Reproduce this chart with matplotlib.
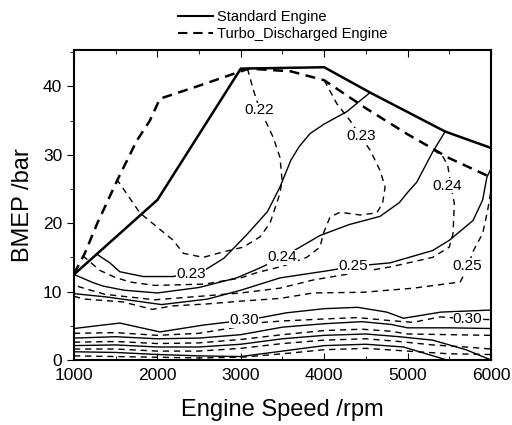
import matplotlib
matplotlib.use('Agg')
import matplotlib.pyplot as plt
from matplotlib.lines import Line2D

plt.rcParams['font.family'] = ['Liberation Sans', 'DejaVu Sans']

# full load lines (rpm, bar)
std_full_x = [1000, 2000, 3000, 4000, 4550, 5450, 6000]
std_full_y = [12.5, 23.4, 42.6, 42.8, 39.1, 33.4, 31.0]
turbo_full_x = [1000, 1130, 1280, 1520, 1750, 1910, 2030, 2500, 3000, 3100, 3600, 4000, 4500, 5000, 5500, 6000]
turbo_full_y = [12.6, 15.6, 20.0, 26.3, 32.0, 35.0, 38.2, 40.1, 42.2, 42.6, 42.2, 40.9, 36.8, 33.0, 29.5, 26.7]

# standard engine bsfc contours
std_023_x = [1270, 1430, 1550, 1830, 2190, 2550, 2800, 3070, 3320, 3470, 3600, 3700, 3830, 4000, 4270, 4550]
std_023_y = [15.5, 14.2, 12.9, 12.2, 12.2, 13.0, 14.9, 18.3, 21.7, 25.3, 29.2, 31.2, 33.1, 34.5, 36.3, 39.1]
std_024_x = [1000, 1230, 1350, 1600, 2000, 2500, 2950, 3200, 3500, 3710, 3950, 4300, 4670, 4900, 5000, 5110, 5300, 5450]
std_024_y = [12.5, 11.3, 10.8, 10.2, 9.8, 10.6, 12.0, 13.3, 15.0, 16.5, 18.2, 19.8, 21.0, 23.0, 24.5, 26.0, 30.4, 33.4]
std_025_x = [1000, 1400, 2050, 2600, 3000, 3470, 4070, 4350, 4790, 5300, 5500, 5785, 5900, 5950, 6000]
std_025_y = [9.7, 9.2, 8.1, 8.9, 10.2, 12.0, 13.1, 13.7, 14.2, 16.0, 17.5, 20.4, 23.4, 26.7, 28.0]
std_030_x = [1000, 1550, 2030, 2550, 3030, 3200, 3550, 4000, 4400, 4750, 4950, 5400, 6000]
std_030_y = [4.6, 5.4, 4.1, 5.1, 5.8, 6.1, 6.9, 7.5, 7.7, 7.0, 6.1, 7.0, 7.3]
std_low1_x = [1000, 1500, 2000, 2500, 3000, 3500, 4000, 4450, 4800, 5000, 5500, 6000]
std_low1_y = [3.2, 3.4, 3.1, 3.2, 3.7, 4.8, 5.3, 5.6, 5.2, 4.7, 4.7, 4.6]
std_low2_x = [1000, 1500, 2000, 2500, 3000, 3500, 4000, 4500, 4900, 5300, 5700, 6000]
std_low2_y = [2.1, 2.2, 1.9, 1.9, 2.3, 3.1, 3.6, 3.8, 3.4, 2.9, 1.5, 0.0]
std_low3_x = [1000, 1500, 2000, 2500, 3000, 3500, 4000, 4500, 4950, 5470]
std_low3_y = [1.2, 1.1, 0.8, 0.6, 0.5, 1.3, 2.1, 2.3, 1.9, 0.0]

# turbo-discharged engine bsfc contours
tur_022_x = [3080, 3150, 3230, 3310, 3390, 3470, 3495, 3470, 3430, 3350, 3230, 3030, 2790, 2550, 2310, 2190, 1990, 1790, 1520]
tur_022_y = [42.6, 39.5, 36.5, 34.6, 32.5, 29.6, 26.3, 24.4, 22.9, 20.0, 18.0, 16.5, 15.8, 15.0, 15.6, 17.5, 19.5, 21.5, 26.3]
tur_023_x = [4000, 4150, 4310, 4430, 4550, 4670, 4730, 4700, 4630, 4430, 4190, 4070, 3990, 3950, 3790, 3500, 3200, 3000, 2570, 1970, 1670, 1490, 1310, 1110]
tur_023_y = [40.9, 37.5, 35.0, 32.8, 30.7, 27.7, 25.3, 22.9, 21.5, 21.2, 21.6, 20.9, 18.5, 16.5, 15.0, 13.7, 12.8, 12.0, 11.1, 10.9, 11.4, 12.1, 13.1, 15.2]
tur_024_x = [5310, 5420, 5480, 5520, 5560, 5545, 5500, 5300, 4790, 4400, 3870, 3470, 3000, 2500, 1970, 1370, 1060, 1000]
tur_024_y = [30.7, 29.8, 28.5, 25.5, 22.9, 18.5, 16.5, 15.0, 13.6, 12.8, 11.7, 10.5, 9.8, 9.3, 8.8, 9.6, 10.7, 11.3]
tur_025_x = [1000, 1130, 1580, 1940, 2180, 2600, 3000, 3470, 3870, 4470, 5070, 5630, 5700, 5790, 5900, 5960, 6000]
tur_025_y = [9.3, 8.9, 8.5, 7.4, 7.9, 8.2, 8.6, 9.0, 9.8, 9.9, 10.5, 11.4, 13.0, 16.0, 18.5, 21.9, 24.8]
tur_030_x = [1000, 1500, 2000, 2500, 3000, 3270, 3500, 4000, 4400, 4750, 5065, 5390, 5720, 6000]
tur_030_y = [3.9, 4.0, 3.6, 3.9, 4.9, 5.5, 5.7, 6.0, 6.2, 5.8, 5.5, 6.3, 6.0, 5.9]
tur_low1_x = [1000, 1500, 2000, 2500, 3000, 3500, 4000, 4450, 4800, 5000, 5500, 6000]
tur_low1_y = [2.6, 2.7, 2.4, 2.5, 3.0, 3.7, 4.3, 4.5, 4.2, 3.8, 3.7, 3.6]
tur_low2_x = [1000, 1500, 2000, 2500, 3000, 3500, 4000, 4500, 4900, 5300, 5700, 6000]
tur_low2_y = [1.6, 1.6, 1.3, 1.3, 1.7, 2.4, 2.9, 3.1, 2.7, 2.2, 1.9, 1.6]
tur_low3_x = [1000, 1500, 2000, 2500, 3000, 3500, 4000, 4500, 5000, 5500, 6000]
tur_low3_y = [0.6, 0.5, 0.4, 0.3, 0.4, 0.9, 1.5, 1.7, 1.3, 0.9, 0.8]

# contour labels: text, rpm, bar
label_text = ['0.22', '0.23', '0.23', '0.24', '0.24', '0.25', '0.25', '0.30', '0.30']
label_x = [3220, 4440, 2400, 3500, 5480, 4350, 5710, 3040, 5720]
label_y = [36.5, 32.8, 12.6, 15.0, 25.5, 13.7, 13.8, 5.8, 6.0]

fig = plt.figure(figsize=(5.12, 4.25), dpi=100)
ax = fig.add_axes([0.1445, 0.153, 0.8145, 0.729])

# full load
ax.plot(std_full_x, std_full_y, color='black', lw=1.8)
ax.plot(turbo_full_x, turbo_full_y, color='black', lw=1.8, dashes=(4, 2.6))

solid = [(std_023_x, std_023_y), (std_024_x, std_024_y), (std_025_x, std_025_y),
         (std_030_x, std_030_y), (std_low1_x, std_low1_y), (std_low2_x, std_low2_y),
         (std_low3_x, std_low3_y)]
dashed = [(tur_022_x, tur_022_y), (tur_023_x, tur_023_y), (tur_024_x, tur_024_y),
          (tur_025_x, tur_025_y), (tur_030_x, tur_030_y), (tur_low1_x, tur_low1_y),
          (tur_low2_x, tur_low2_y), (tur_low3_x, tur_low3_y)]

for xs, ys in solid:
    ax.plot(xs, ys, color='black', lw=1.0)
for xs, ys in dashed:
    ax.plot(xs, ys, color='black', lw=1.0, dashes=(4.5, 3.5))

for t, x, y in zip(label_text, label_x, label_y):
    ax.text(x, y, t, fontsize=11, ha='center', va='center', zorder=5,
            bbox=dict(fc='white', ec='none', pad=0.2))

ax.set_xlim(1000, 6000)
ax.set_ylim(0, 45.3)
ax.set_xticks([1000, 2000, 3000, 4000, 5000, 6000])
ax.set_xticks([1500, 2500, 3500, 4500, 5500], minor=True)
ax.set_yticks([0, 10, 20, 30, 40])
ax.set_yticks([5, 15, 25, 35, 45], minor=True)
ax.tick_params(axis='x', which='both', direction='in', top=True, labelsize=12.5, pad=6)
ax.tick_params(axis='x', which='major', length=5)
ax.tick_params(axis='x', which='minor', length=3)
ax.tick_params(axis='y', which='both', direction='out', labelsize=12.5)
ax.tick_params(axis='y', which='major', length=5)
ax.tick_params(axis='y', which='minor', length=3)
for s in ax.spines.values():
    s.set_linewidth(1.5)

ax.set_xlabel('Engine Speed /rpm', fontsize=17, labelpad=11)
ax.set_ylabel('BMEP /bar', fontsize=17, labelpad=6)

handles = [Line2D([], [], color='black', lw=1.5),
           Line2D([], [], color='black', lw=1.5, dashes=(4.5, 2.8))]
fig.legend(handles, ['Standard Engine', 'Turbo_Discharged Engine'], loc='upper left',
           bbox_to_anchor=(0.327, 1.0), frameon=False, fontsize=10.5,
           handlelength=2.4, handletextpad=0.3, labelspacing=0.2, borderpad=0.2)

fig.savefig('out.png', dpi=100)
